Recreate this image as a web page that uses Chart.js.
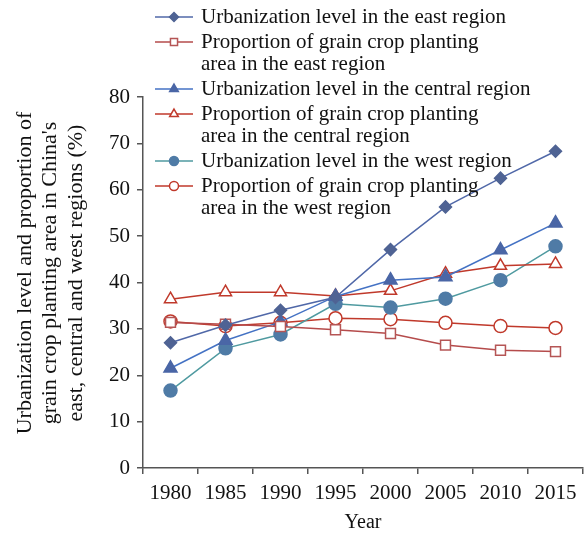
<!DOCTYPE html>
<html>
<head>
<meta charset="utf-8">
<script src="https://cdn.jsdelivr.net/npm/chart.js@4.4.1/dist/chart.umd.min.js"></script>
<style>
html,body{margin:0;padding:0;background:#fff;}
#wrap{width:587px;height:534px;position:relative;}
</style>
</head>
<body>
<div id="wrap"><canvas id="c" width="587" height="534"></canvas></div>
<script>
const years = ['1980','1985','1990','1995','2000','2005','2010','2015'];
const urbEast    = [27.0, 30.8, 34.0, 36.8, 47.1, 56.3, 62.5, 68.3];
const grainEast  = [31.4, 31.0, 30.5, 29.8, 29.0, 26.5, 25.4, 25.1];
const urbCentral = [21.5, 27.5, 31.5, 37.0, 40.5, 41.2, 47.0, 52.8];
const grainCentral = [36.4, 37.9, 37.9, 37.1, 38.2, 41.9, 43.6, 44.0];
const urbWest    = [16.7, 25.8, 28.8, 35.4, 34.6, 36.5, 40.5, 47.8];
const grainWest  = [31.6, 30.6, 31.3, 32.3, 32.1, 31.3, 30.6, 30.2];
const yTicks = [0,10,20,30,40,50,60,70,80];
const legendLabels = [
  ['Urbanization level in the east region'],
  ['Proportion of grain crop planting','area in the east region'],
  ['Urbanization level in the central region'],
  ['Proportion of grain crop planting','area in the central region'],
  ['Urbanization level in the west region'],
  ['Proportion of grain crop planting','area in the west region']
];
const yTitle = ['Urbanization level and proportion of',"grain crop planting area in China's",'east, central and west regions (%)'];
const xTitle = 'Year';

const FONT = "'Liberation Serif', 'Times New Roman', serif";
const TXT = '#111111';

const datasets = [
  {label: legendLabels[0].join(' '), data: urbEast, borderColor:'#5068A8', backgroundColor:'#4F6394', pointBorderColor:'#4F6394', pointStyle:'rectRot', pointRadius:6, lgRadius:4.5},
  {label: legendLabels[1].join(' '), data: grainEast, borderColor:'#B54B4B', backgroundColor:'#ffffff', pointBorderColor:'#B55555', pointStyle:'rect', pointRadius:7, lgRadius:5},
  {label: legendLabels[2].join(' '), data: urbCentral, borderColor:'#4472C4', backgroundColor:'#4A66A6', pointBorderColor:'#4A66A6', pointStyle:'triangle', pointRadius:7.5, lgRadius:5},
  {label: legendLabels[3].join(' '), data: grainCentral, borderColor:'#C0392B', backgroundColor:'#ffffff', pointBorderColor:'#C0392B', pointStyle:'triangle', pointRadius:7, lgRadius:5},
  {label: legendLabels[4].join(' '), data: urbWest, borderColor:'#4F9AA0', backgroundColor:'#4F7BA6', pointBorderColor:'#4F7BA6', pointStyle:'circle', pointRadius:6.5, lgRadius:4.5},
  {label: legendLabels[5].join(' '), data: grainWest, borderColor:'#C0392B', backgroundColor:'#ffffff', pointBorderColor:'#C0392B', pointStyle:'circle', pointRadius:6.5, lgRadius:4.5}
].map(d => Object.assign({
  borderWidth: 1.5,
  pointBackgroundColor: d.backgroundColor,
  pointBorderWidth: 1.5,
  pointHoverRadius: d.pointRadius,
  tension: 0,
  fill: false,
  clip: false
}, d));

const legendPlugin = {
  id: 'customLegend',
  afterDraw(chart) {
    const ctx = chart.ctx;
    ctx.save();
    const x0 = 155, x1 = 193, tx = 201;
    const lh = 22, gap = 3;
    let y = 17;
    ctx.font = '21px ' + FONT;
    ctx.textBaseline = 'middle';
    ctx.textAlign = 'left';
    chart.data.datasets.forEach((ds, i) => {
      ctx.strokeStyle = ds.borderColor;
      ctx.lineWidth = 1.5;
      ctx.beginPath(); ctx.moveTo(x0, y); ctx.lineTo(x1, y); ctx.stroke();
      ctx.fillStyle = ds.pointBackgroundColor;
      ctx.strokeStyle = ds.pointBorderColor;
      ctx.lineWidth = 1.5;
      Chart.helpers.drawPoint(ctx, {pointStyle: ds.pointStyle, radius: ds.lgRadius, borderWidth: 1.5, rotation: 0}, (x0+x1)/2, y);
      ctx.fillStyle = TXT;
      const lines = legendLabels[i];
      lines.forEach((t, k) => ctx.fillText(t, tx, y + k*lh));
      y += lines.length*lh + gap;
    });
    // y-axis title (three lines, rotated)
    ctx.save();
    ctx.translate(0, 273);
    ctx.rotate(-Math.PI/2);
    ctx.textAlign = 'center';
    ctx.textBaseline = 'middle';
    ctx.font = '22px ' + FONT;
    yTitle.forEach((t, k) => ctx.fillText(t, 0, 25 + k*25.5));
    ctx.restore();
    ctx.restore();
  }
};

new Chart(document.getElementById('c'), {
  type: 'line',
  data: { labels: years, datasets },
  plugins: [legendPlugin],
  options: {
    responsive: false,
    animation: false,
    devicePixelRatio: 1,
    layout: { autoPadding: false, padding: { top: 97, right: 4, left: 0, bottom: 0 } },
    plugins: { legend: { display: false }, tooltip: { enabled: false } },
    scales: {
      x: {
        type: 'category',
        offset: true,
        grid: { offset: true, drawOnChartArea: false, drawTicks: true, tickLength: 6, color: '#555', lineWidth: 1.5 },
        border: { display: true, color: '#555', width: 1.5 },
        ticks: { color: TXT, font: { family: FONT, size: 21 }, padding: 7, maxRotation: 0 },
        title: { display: true, text: xTitle, color: TXT, font: { family: FONT, size: 20, lineHeight: 1.1 }, padding: { top: 0, bottom: 0 } },
        afterFit(s) { s.height = 534 - 468; s.paddingLeft = 0; s.paddingRight = 0; }
      },
      y: {
        min: 0, max: 80,
        afterBuildTicks(s) { s.ticks = yTicks.map(v => ({ value: v })); },
        grid: { drawOnChartArea: false, drawTicks: true, tickLength: 6, color: '#555', lineWidth: 1.5 },
        border: { display: true, color: '#555', width: 1.5 },
        ticks: { color: TXT, font: { family: FONT, size: 21 }, padding: 7 },
        title: { display: false },
        afterFit(s) { s.width = 143; }
      }
    }
  }
});
</script>
</body>
</html>
